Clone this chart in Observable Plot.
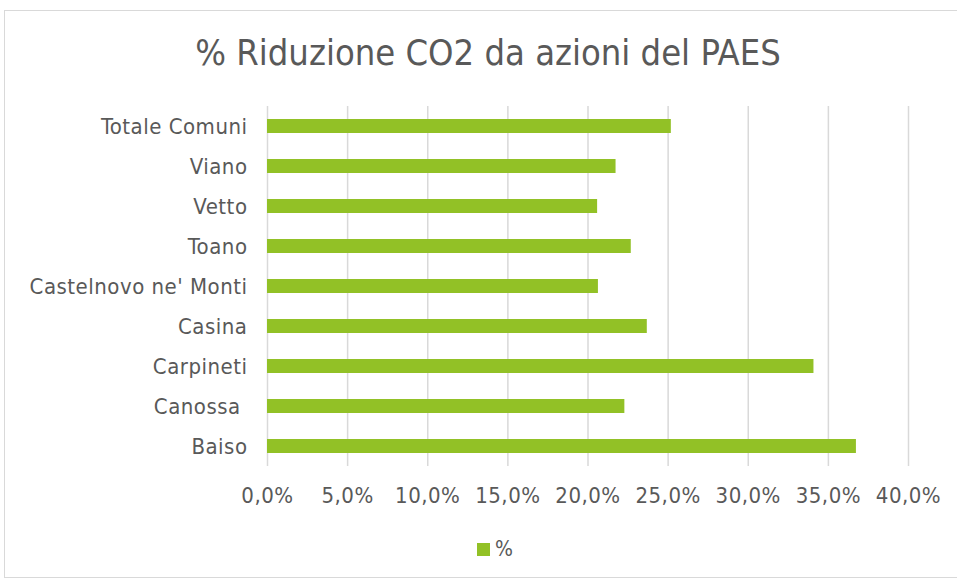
<!DOCTYPE html>
<html><head><meta charset="utf-8">
<script src="https://cdn.jsdelivr.net/npm/d3@7"></script>
<script src="https://cdn.jsdelivr.net/npm/@observablehq/plot@0.6"></script>
<style>
body{margin:0;background:#fff;font-family:"DejaVu Sans Condensed","DejaVu Sans",sans-serif;}
#wrap{position:relative;width:957px;height:581px;overflow:hidden;}
#frame{position:absolute;left:4px;top:10px;width:1000px;height:566px;border:1px solid #d9d9d9;}
#title{position:absolute;left:0;width:976px;top:33px;line-height:40px;text-align:center;font-size:36px;color:#595959;}
#chart{position:absolute;left:0;top:90px;}
#chart svg text{letter-spacing:0.5px;}
#legend{position:absolute;top:537px;left:477px;font-size:21px;color:#595959;display:flex;align-items:center;}
#legend span.sw{display:inline-block;width:13px;height:13px;background:#92c126;margin-right:5px;}
</style></head>
<body><div id="wrap"><div id="frame"></div>
<div id="title">% Riduzione CO2 da azioni del PAES</div>
<div id="chart"></div>
<div id="legend"><span class="sw"></span>%</div>
</div>
<script>
const comuni = ["Totale Comuni","Viano","Vetto","Toano","Castelnovo ne' Monti","Casina","Carpineti","Canossa ","Baiso"];
const valori = [0.252,0.2175,0.206,0.227,0.2065,0.237,0.341,0.223,0.3675];
const ticks = [0,0.05,0.10,0.15,0.20,0.25,0.30,0.35,0.40];
const data = comuni.map((c,i)=>({comune:c, v:valori[i]}));
const fmt = d => d3.format(".1f")(d*100).replace(".", ",") + "%";
const chart = Plot.plot({
  width:957, height:426,
  marginLeft:267, marginRight:49, marginTop:16, marginBottom:50,
  style:{fontFamily:"'DejaVu Sans Condensed','DejaVu Sans',sans-serif", fontSize:"22px", color:"#595959", background:"transparent"},
  x:{domain:[0,0.4], ticks:ticks, tickFormat:fmt, label:null},
  y:{domain:comuni, paddingInner:0.65, paddingOuter:0.325, label:null},
  marks:[
    Plot.gridX(ticks,{stroke:"#d9d9d9", strokeOpacity:1, strokeWidth:1.5}),
    Plot.barX(data,{x:"v", y:"comune", fill:"#92c126"}),
    Plot.axisX({ticks:ticks, tickFormat:fmt, tickSize:0, tickPadding:21, label:null, fontSize:22}),
    Plot.axisY({tickSize:0, tickPadding:20, label:null, fontSize:22})
  ]
});
document.getElementById("chart").appendChild(chart);
</script></body></html>
